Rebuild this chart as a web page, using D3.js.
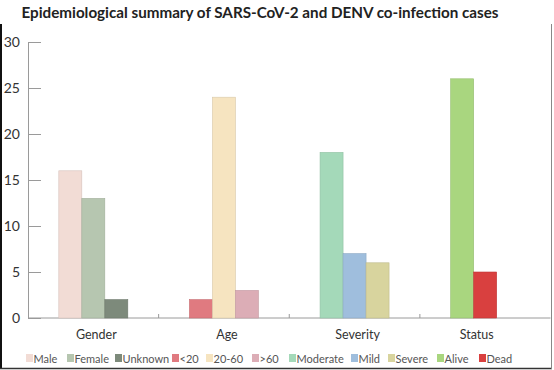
<!DOCTYPE html>
<html><head><meta charset="utf-8">
<script src="https://cdn.jsdelivr.net/npm/d3@7"></script>
<style>body{margin:0;background:#fff}svg{display:block;font-family:Lato,"Open Sans",sans-serif}</style>
</head><body><svg id="c" width="554" height="370"></svg>
<script>
const title = "Epidemiological summary of SARS-CoV-2 and DENV co-infection cases";
const categories = ["Gender", "Age", "Severity", "Status"];
const seriesNames = ["Male","Female","Unknown","<20","20-60",">60","Moderate","Mild","Severe","Alive","Dead"];
const seriesCategory = ["Gender","Gender","Gender","Age","Age","Age","Severity","Severity","Severity","Status","Status"];
const seriesSlot = [0,1,2,0,1,2,0,1,2,0,1];
const seriesValues = [16,13,2,2,24,3,18,7,6,26,5];
const seriesColors = ["#f2dcd5","#b6c6b0","#7d8a7b","#e07a80","#f6e4c0","#dcadb6","#a4d9b9","#9fbedd","#d8d49e","#a9d67f","#d9403f"];
const yTicks = [0,5,10,15,20,25,30];

const svg = d3.select("#c");
const L = 28, R = 550.5, T = 42, B = 318;

const x = d3.scaleBand().domain(categories).range([L, R]).paddingInner(0).paddingOuter(0);
const slots = d3.scaleBand().domain([0,1,2]).range([0, 69]);
const y = d3.scaleLinear().domain([0, 30]).range([B, T]);

// title
svg.append("text").attr("x", 260).attr("y", 18).attr("text-anchor", "middle")
  .attr("font-size", 16).attr("font-weight", 700).attr("fill", "#222")
  .attr("textLength", 477).attr("lengthAdjust", "spacingAndGlyphs").text(title);

// y axis
const yAxis = d3.axisLeft(y).tickValues(yTicks).tickSize(-13).tickPadding(8);
const gy = svg.append("g").attr("transform", `translate(${L},0)`).call(yAxis);
gy.select(".domain").attr("stroke", "#9a9a9a");
gy.selectAll(".tick line").attr("stroke", "#9a9a9a");
gy.selectAll(".tick text").attr("font-size", 14).attr("fill", "#333").attr("font-family", "Lato, sans-serif");

// x axis baseline + boundary ticks
const gx = svg.append("g");
gx.append("line").attr("x1", L).attr("x2", R).attr("y1", B).attr("y2", B).attr("stroke", "#9a9a9a");
gx.selectAll("line.bt").data(categories.slice(1)).join("line").attr("class","bt")
  .attr("x1", d => x(d)).attr("x2", d => x(d)).attr("y1", B).attr("y2", B - 4).attr("stroke", "#9a9a9a");

const groupOffset = (x.bandwidth() - slots.range()[1]) / 2;
const bars = seriesNames.map((n, i) => ({name: n, cat: seriesCategory[i], slot: seriesSlot[i], v: seriesValues[i], c: seriesColors[i]}));

svg.append("g").selectAll("rect").data(bars).join("rect")
  .attr("x", d => x(d.cat) + groupOffset + slots(d.slot))
  .attr("width", slots.bandwidth())
  .attr("y", d => y(d.v))
  .attr("height", d => y(0) - y(d.v))
  .attr("fill", d => d.c)
  .attr("stroke", d => d3.color(d.c).darker(0.35))
  .attr("stroke-width", 0.6);

// category labels centered on present bars
categories.forEach(cat => {
  const bs = bars.filter(b => b.cat === cat);
  const x0 = d3.min(bs, b => x(b.cat) + groupOffset + slots(b.slot));
  const x1 = d3.max(bs, b => x(b.cat) + groupOffset + slots(b.slot) + slots.bandwidth());
  svg.append("text").attr("x", (x0 + x1) / 2 + 3).attr("y", 339).attr("text-anchor", "middle")
    .attr("font-size", 12.5).attr("fill", "#333").text(cat);
});

// legend
const legendX = [26, 67, 115, 172, 206, 252, 289, 351, 388, 437, 479];
const lg = svg.append("g");
bars.forEach((b, i) => {
  lg.append("rect").attr("x", legendX[i]).attr("y", 354).attr("width", 7).attr("height", 8).attr("fill", b.c);
  lg.append("text").attr("x", legendX[i] + 7.5).attr("y", 362.5).attr("font-size", 11).attr("fill", "#555").text(b.name);
});

// frame
svg.append("line").attr("x1", 1).attr("x2", 1).attr("y1", 24).attr("y2", 369).attr("stroke", "#111").attr("stroke-width", 2);
svg.append("line").attr("x1", 0).attr("x2", 552).attr("y1", 368.5).attr("y2", 368.5).attr("stroke", "#333").attr("stroke-width", 1.5);
svg.append("line").attr("x1", 551.5).attr("x2", 551.5).attr("y1", 24).attr("y2", 369).attr("stroke", "#888").attr("stroke-width", 1);
</script></body></html>
